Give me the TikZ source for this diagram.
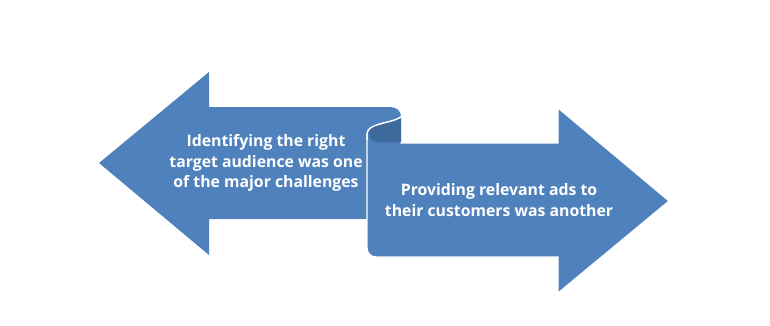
\documentclass[tikz,border=0pt]{standalone}
\usepackage{fontspec}
\setmainfont{Open Sans}
\definecolor{arrowblue}{HTML}{4F81BD}
\definecolor{rollblue}{HTML}{3F6A9C}
\tikzset{
  arrowtext/.style={text=white, font=\fontsize{15.8}{20.5}\selectfont\bfseries, align=center}
}
\begin{document}
\begin{tikzpicture}[x=1pt, y=-1pt]
	\useasboundingbox (0,0) rectangle (770,325);
	
	% left arrow with the rolled end
	\fill[arrowblue] (99,163) -- (209,72) -- (209,107) -- (390,107)
		.. controls (397,107) and (401,111) .. (401,117) -- (401,143)
		-- (370,143) -- (370,219) -- (209,219) -- (209,255) -- cycle;
	
	% right arrow
	\filldraw[fill=arrowblue, draw=white, line width=1.2pt] (401,143) -- (558,143) -- (558,108)
		-- (669,201) -- (558,293) -- (558,257) -- (376,257)
		.. controls (371,257) and (367,253) .. (367,248) -- (367,134)
		.. controls (367,123) and (390,124) .. (401,117) -- cycle;
	
	% back of the roll
	\fill[rollblue] (401,118) .. controls (390,125) and (368.6,123) .. (368.6,134)
		.. controls (368.6,140) and (375,142.4) .. (383,142.4) -- (401,142.4) -- cycle;
	\draw[white, line width=1.2pt] (367,140) -- (367,134) .. controls (367,123) and (390,124) .. (401,117);
	
	% labels
	\node[arrowtext] (identify) at (266,163) {Identifying the right\\target audience was one\\of the major challenges};
	\node[arrowtext] (provide) at (499,200) {Providing relevant ads to\\their customers was another};
\end{tikzpicture}
\end{document}
